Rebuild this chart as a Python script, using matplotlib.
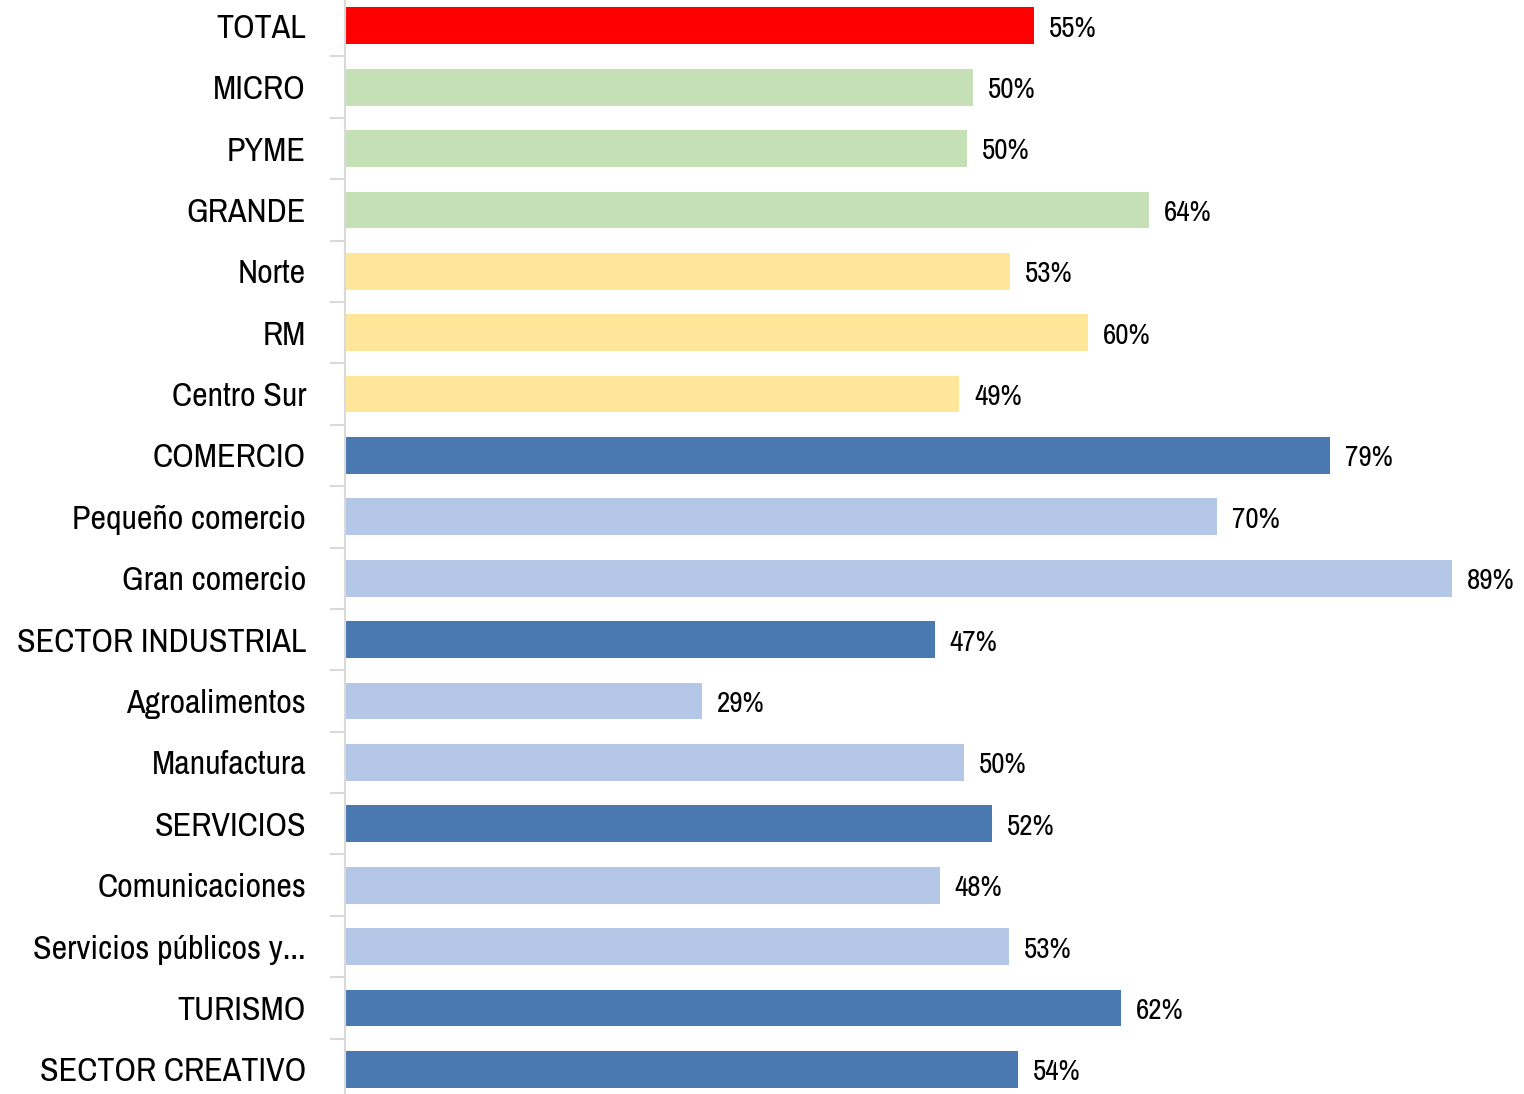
import matplotlib
matplotlib.use("Agg")
import matplotlib.pyplot as plt
from matplotlib import font_manager
import numpy as np

categories = ["TOTAL", "MICRO", "PYME", "GRANDE", "Norte", "RM", "Centro Sur",
              "COMERCIO", "Pequeño comercio", "Gran comercio", "SECTOR INDUSTRIAL",
              "Agroalimentos", "Manufactura", "SERVICIOS", "Comunicaciones",
              "Servicios públicos y...", "TURISMO", "SECTOR CREATIVO"]
values = [55.4, 50.5, 50.0, 64.6, 53.5, 59.7, 49.4, 79.2, 70.1, 89.0, 47.4,
          28.7, 49.8, 52.0, 47.8, 53.4, 62.4, 54.1]
labels = ["55%", "50%", "50%", "64%", "53%", "60%", "49%", "79%", "70%", "89%",
          "47%", "29%", "50%", "52%", "48%", "53%", "62%", "54%"]
groups = ["total", "size", "size", "size", "region", "region", "region",
          "sector", "sub", "sub", "sector", "sub", "sub", "sector", "sub", "sub",
          "sector", "sector"]
palette = {"total": "#FF0000", "size": "#C5E0B4", "region": "#FFE699",
           "sector": "#4A78B0", "sub": "#B4C7E7"}

# condensed face if one is installed
names = sorted({f.name for f in font_manager.fontManager.ttflist})
narrow = [n for n in names if "Narrow" in n or "Condensed" in n]
fam = narrow[0] if narrow else "DejaVu Sans"

fig = plt.figure(figsize=(15.24, 10.94), dpi=100)
ax = fig.add_axes([345/1524, -0.0055, (1452-345)/1524, 1.0100])

y = np.arange(len(categories))
ax.barh(y, values, height=0.6, color=[palette[g] for g in groups])
for yi, v, lab in zip(y, values, labels):
    ax.text(v + 1.2, yi + 0.04, lab, va="center", ha="left", fontsize=21,
            family=fam, fontweight="bold", clip_on=False)

ax.set_xlim(0, 89)
ax.set_ylim(len(categories) - 0.5, -0.5)
ax.set_yticks(y)
ax.set_yticklabels(categories, family=fam, fontsize=24.5)
ax.set_yticks(np.arange(len(categories) + 1) - 0.5, minor=True)
ax.tick_params(axis="y", which="major", length=0, pad=28)
ax.tick_params(axis="y", which="minor", length=11, width=1.5, color="#d9d9d9")
ax.set_xticks([])
for s in ["top", "right", "bottom"]:
    ax.spines[s].set_visible(False)
ax.spines["left"].set_color("#d9d9d9")
ax.spines["left"].set_linewidth(1.5)

fig.savefig("out.png", dpi=100)
